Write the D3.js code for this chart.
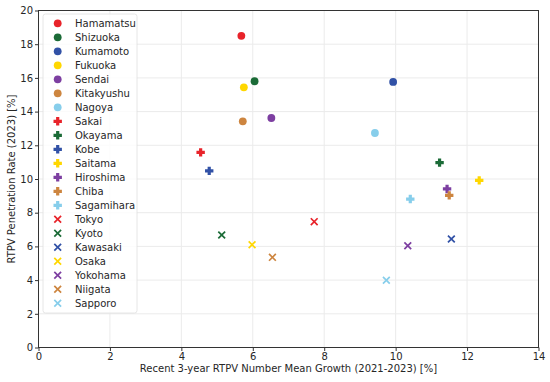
<!DOCTYPE html>
<html><head><meta charset="utf-8">
<script src="https://cdn.jsdelivr.net/npm/d3@7"></script>
<style>body{margin:0;background:#fff}svg{display:block;font-family:"DejaVu Sans",sans-serif}</style>
</head><body><svg id="c" width="550" height="382"></svg>
<script>
const cities = ["Hamamatsu","Shizuoka","Kumamoto","Fukuoka","Sendai","Kitakyushu","Nagoya",
  "Sakai","Okayama","Kobe","Saitama","Hiroshima","Chiba","Sagamihara",
  "Tokyo","Kyoto","Kawasaki","Osaka","Yokohama","Niigata","Sapporo"];
const growth = [5.68,6.05,9.93,5.75,6.52,5.72,9.42, 4.54,11.23,4.78,12.34,11.44,11.50,10.41, 7.72,5.13,11.56,5.98,10.34,6.55,9.74];
const penetration = [18.5,15.8,15.76,15.44,13.62,13.42,12.73, 11.58,10.97,10.48,9.92,9.41,9.03,8.81, 7.47,6.68,6.44,6.10,6.04,5.35,3.99];
const markers = ["circle","circle","circle","circle","circle","circle","circle",
  "plus","plus","plus","plus","plus","plus","plus",
  "x","x","x","x","x","x","x"];
const palette = ["#e8232a","#1b6b37","#3151a6","#ffd700","#7d3fa1","#cd853f","#87ceeb"];
const xTicks = [0,2,4,6,8,10,12,14];
const yTicks = [0,2,4,6,8,10,12,14,16,18,20];

const svg = d3.select("#c");
const L=38.5,R=538.5,T=10.5,B=347.5;
const x = d3.scaleLinear().domain([0,14]).range([L,R]);
const y = d3.scaleLinear().domain([0,20]).range([B,T]);

// grid
const g = svg.append("g");
g.selectAll(".gx").data(xTicks).join("line").attr("x1",d=>x(d)).attr("x2",d=>x(d)).attr("y1",T).attr("y2",B).attr("stroke","#ebebeb").attr("stroke-width",1);
g.selectAll(".gy").data(yTicks).join("line").attr("y1",d=>y(d)).attr("y2",d=>y(d)).attr("x1",L).attr("x2",R).attr("stroke","#ebebeb").attr("stroke-width",1);

// axes
const xa = svg.append("g").attr("transform",`translate(0,${B})`).call(d3.axisBottom(x).tickValues(xTicks).tickSize(3.5).tickPadding(2).tickFormat(d3.format("d")));
const ya = svg.append("g").attr("transform",`translate(${L},0)`).call(d3.axisLeft(y).tickValues(yTicks).tickSize(3.5).tickPadding(2).tickFormat(d3.format("d")));
[xa,ya].forEach(a=>{a.select(".domain").remove();a.selectAll("text").attr("font-size",10).attr("fill","#262626").attr("font-family","DejaVu Sans");a.selectAll("line").attr("stroke","#333");});
svg.append("rect").attr("x",L).attr("y",T).attr("width",R-L).attr("height",B-T).attr("fill","none").attr("stroke","#333").attr("stroke-width",1);

svg.append("text").attr("x",(L+R)/2).attr("y",372).attr("text-anchor","middle").attr("font-size",10).attr("fill","#262626").text("Recent 3-year RTPV Number Mean Growth (2021-2023) [%]");
svg.append("text").attr("transform",`translate(15,${(T+B)/2}) rotate(-90)`).attr("text-anchor","middle").attr("font-size",10).attr("fill","#262626").text("RTPV Penetration Rate (2023) [%]");

function drawMarker(sel, type, color){
  if(type==="circle"){
    sel.append("circle").attr("r",3.9).attr("fill",color);
  } else if(type==="plus"){
    const a=4.2,b=1.6;
    sel.append("path").attr("d",`M${-b},${-a}H${b}V${-b}H${a}V${b}H${b}V${a}H${-b}V${b}H${-a}V${-b}H${-b}Z`).attr("fill",color);
  } else {
    const a=3.4;
    sel.append("path").attr("d",`M${-a},${-a}L${a},${a}M${-a},${a}L${a},${-a}`).attr("stroke",color).attr("stroke-width",1.7).attr("fill","none");
  }
}

const data = cities.map((c,i)=>({c,gx:growth[i],py:penetration[i],m:markers[i],col:palette[i%7]}));
svg.append("g").selectAll("g").data(data).join("g")
  .attr("transform",d=>`translate(${x(d.gx)},${y(d.py)})`)
  .each(function(d){drawMarker(d3.select(this),d.m,d.col);});

// legend
const lg = svg.append("g");
lg.append("rect").attr("x",43).attr("y",14).attr("width",94).attr("height",299).attr("rx",2.5).attr("fill","#fff").attr("fill-opacity",0.8).attr("stroke","#e0e0e0").attr("stroke-width",0.8);
const items = lg.selectAll("g").data(data).join("g").attr("transform",(d,i)=>`translate(57.7,${23.3+i*14})`);
items.each(function(d){drawMarker(d3.select(this),d.m,d.col);});
items.append("text").attr("x",17.3).attr("y",3.6).attr("font-size",10).attr("fill","#262626").text(d=>d.c);
</script></body></html>
